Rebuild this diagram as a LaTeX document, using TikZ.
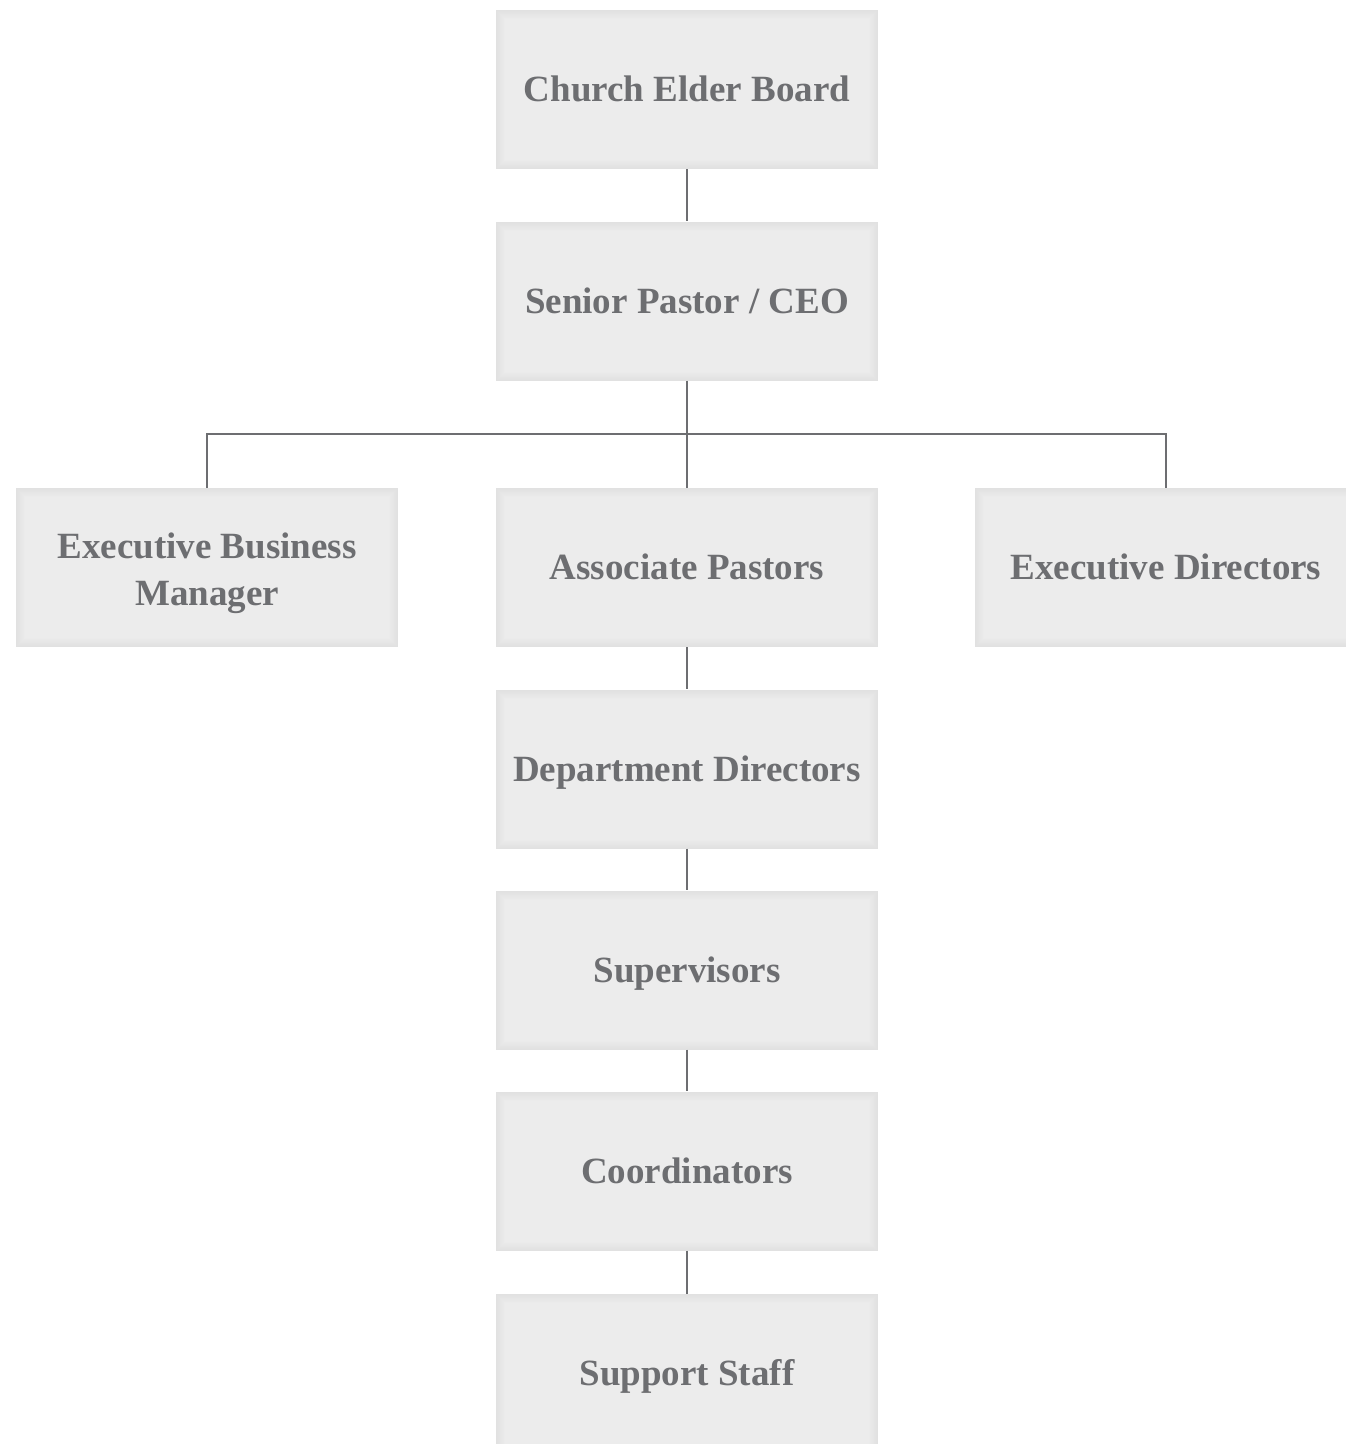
\documentclass[tikz,border=0pt]{standalone}
\usepackage{fontspec}
\setmainfont{Liberation Serif}
\usepackage{tikz}
\usetikzlibrary{positioning}
\definecolor{boxfill}{HTML}{EDEDED}
\definecolor{boxedge}{HTML}{E1E1E1}
\definecolor{inkgray}{HTML}{6D6E71}
\tikzset{
	role/.style={minimum width=382pt, minimum height=159pt, inner sep=0pt,
		fill=boxfill, text=inkgray, align=center,
		text height=24.5pt, text depth=0pt,
		font=\fontsize{37}{47}\selectfont\bfseries,
		path picture={
			\foreach \k [evaluate=\k as \p using int(100-10*\k)] in {0,...,9}
				\fill[boxedge!\p!boxfill]
					([xshift=\k pt,yshift=-\k pt]path picture bounding box.north west)
					rectangle ([xshift=-\k pt,yshift=\k pt]path picture bounding box.south east);
		}},
	link/.style={draw=inkgray, line width=2.5pt}
}

\begin{document}
\begin{tikzpicture}[x=1pt,y=-1pt]
	\useasboundingbox[fill=white] (0,0) rectangle (1345,1444);

	% ------------------- Top of the chart ------------------- %
	\node[role] (board)  at (687,89.5) {Church Elder Board};
	\node[role] (pastor) at (687,301) {Senior Pastor / CEO};

	% ------------------- Middle row ------------------- %
	\node[role, text height=75pt] (business) at (207,567.5) {Executive Business\\Manager};
	\node[role] (assoc)    at (687,567.5)  {Associate Pastors};
	\node[role] (execdir)  at (1166,567.5) {Executive Directors};

	% ------------------- Lower chain ------------------- %
	\node[role] (dept)   at (687,769)    {Department Directors};
	\node[role] (super)  at (687,970)    {Supervisors};
	\node[role] (coord)  at (687,1171)   {Coordinators};
	\node[role] (staff)  at (687,1373.5) {Support Staff};

	\coordinate (bus) at (687,434);

	% ------------------- Connectors ------------------- %
	\draw[link] (board.south) -- (pastor.north);
	\draw[link] (pastor.south) -- (bus);
	\draw[link] (bus) -- (assoc.north);
	\draw[link] (business.north) |- (bus) -| (execdir.north);
	\draw[link] (assoc.south) -- (dept.north);
	\draw[link] (dept.south) -- (super.north);
	\draw[link] (super.south) -- (coord.north);
	\draw[link] (coord.south) -- (staff.north);
\end{tikzpicture}
\end{document}
